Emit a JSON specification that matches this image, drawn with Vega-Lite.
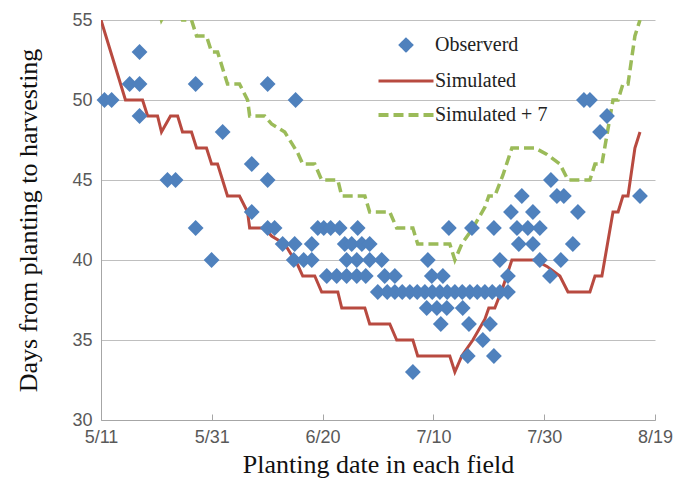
{
  "$schema": "https://vega.github.io/schema/vega-lite/v6.json",
  "width": 554,
  "height": 400,
  "autosize": {"type": "none"},
  "padding": {"left": 101, "top": 20, "right": 33, "bottom": 63},
  "background": "white",
  "config": {
    "view": {"stroke": null},
    "axis": {
      "labelFont": "Liberation Sans",
      "labelFontSize": 18,
      "labelColor": "#595959",
      "titleFont": "Liberation Serif",
      "titleFontSize": 26,
      "titleFontWeight": "normal",
      "titleColor": "#111111",
      "domainColor": "#a6a6a6",
      "tickColor": "#a6a6a6",
      "gridColor": "#bfbfbf"
    }
  },
  "datasets": {
    "obs": [
      {"date": "2000-05-11T15:00", "days": 50},
      {"date": "2000-05-12T22:00", "days": 50},
      {"date": "2000-05-16T04:00", "days": 51},
      {"date": "2000-05-17T23:00", "days": 51},
      {"date": "2000-05-17T23:00", "days": 53},
      {"date": "2000-05-17T23:00", "days": 49},
      {"date": "2000-05-23T00:00", "days": 45},
      {"date": "2000-05-24T11:00", "days": 45},
      {"date": "2000-05-28T02:00", "days": 51},
      {"date": "2000-05-28T02:00", "days": 42},
      {"date": "2000-05-30T23:00", "days": 40},
      {"date": "2000-06-01T23:00", "days": 48},
      {"date": "2000-06-07T05:00", "days": 46},
      {"date": "2000-06-07T05:00", "days": 43},
      {"date": "2000-06-10T02:00", "days": 45},
      {"date": "2000-06-10T02:00", "days": 51},
      {"date": "2000-06-10T02:00", "days": 42},
      {"date": "2000-06-11T08:00", "days": 42},
      {"date": "2000-06-12T19:00", "days": 41},
      {"date": "2000-06-15T03:00", "days": 50},
      {"date": "2000-06-14T23:00", "days": 41},
      {"date": "2000-06-18T01:00", "days": 41},
      {"date": "2000-06-14T19:00", "days": 40},
      {"date": "2000-06-16T14:00", "days": 40},
      {"date": "2000-06-18T01:00", "days": 40},
      {"date": "2000-06-19T03:00", "days": 42},
      {"date": "2000-06-20T05:00", "days": 42},
      {"date": "2000-06-21T11:00", "days": 42},
      {"date": "2000-06-23T02:00", "days": 42},
      {"date": "2000-06-26T08:00", "days": 42},
      {"date": "2000-06-24T00:00", "days": 41},
      {"date": "2000-06-25T06:00", "days": 41},
      {"date": "2000-06-27T02:00", "days": 41},
      {"date": "2000-06-28T12:00", "days": 41},
      {"date": "2000-06-24T08:00", "days": 40},
      {"date": "2000-06-26T04:00", "days": 40},
      {"date": "2000-06-28T12:00", "days": 40},
      {"date": "2000-06-30T16:00", "days": 40},
      {"date": "2000-06-20T18:00", "days": 39},
      {"date": "2000-06-22T13:00", "days": 39},
      {"date": "2000-06-24T08:00", "days": 39},
      {"date": "2000-06-26T04:00", "days": 39},
      {"date": "2000-06-27T19:00", "days": 39},
      {"date": "2000-07-01T05:00", "days": 39},
      {"date": "2000-07-03T01:00", "days": 39},
      {"date": "2000-06-29T23:00", "days": 38},
      {"date": "2000-07-01T16:00", "days": 38},
      {"date": "2000-07-03T01:00", "days": 38},
      {"date": "2000-07-04T09:00", "days": 38},
      {"date": "2000-07-05T18:00", "days": 38},
      {"date": "2000-07-07T02:00", "days": 38},
      {"date": "2000-07-08T11:00", "days": 38},
      {"date": "2000-07-09T19:00", "days": 38},
      {"date": "2000-07-11T04:00", "days": 38},
      {"date": "2000-07-12T12:00", "days": 38},
      {"date": "2000-07-13T21:00", "days": 38},
      {"date": "2000-07-15T05:00", "days": 38},
      {"date": "2000-07-16T14:00", "days": 38},
      {"date": "2000-07-17T22:00", "days": 38},
      {"date": "2000-07-19T07:00", "days": 38},
      {"date": "2000-07-20T15:00", "days": 38},
      {"date": "2000-07-22T00:00", "days": 38},
      {"date": "2000-07-23T11:00", "days": 38},
      {"date": "2000-07-09T00:00", "days": 40},
      {"date": "2000-07-09T17:00", "days": 39},
      {"date": "2000-07-11T17:00", "days": 39},
      {"date": "2000-07-08T19:00", "days": 37},
      {"date": "2000-07-10T15:00", "days": 37},
      {"date": "2000-07-12T10:00", "days": 37},
      {"date": "2000-07-15T07:00", "days": 37},
      {"date": "2000-07-11T08:00", "days": 36},
      {"date": "2000-07-16T10:00", "days": 36},
      {"date": "2000-07-20T05:00", "days": 36},
      {"date": "2000-07-18T22:00", "days": 35},
      {"date": "2000-07-16T05:00", "days": 34},
      {"date": "2000-07-20T22:00", "days": 34},
      {"date": "2000-07-06T07:00", "days": 33},
      {"date": "2000-07-12T19:00", "days": 42},
      {"date": "2000-07-16T23:00", "days": 42},
      {"date": "2000-07-20T22:00", "days": 42},
      {"date": "2000-07-22T00:00", "days": 40},
      {"date": "2000-07-23T11:00", "days": 39},
      {"date": "2000-07-24T00:00", "days": 43},
      {"date": "2000-07-25T23:00", "days": 44},
      {"date": "2000-07-25T02:00", "days": 42},
      {"date": "2000-07-27T01:00", "days": 42},
      {"date": "2000-07-29T05:00", "days": 42},
      {"date": "2000-07-25T10:00", "days": 41},
      {"date": "2000-07-27T23:00", "days": 41},
      {"date": "2000-07-27T23:00", "days": 43},
      {"date": "2000-07-29T05:00", "days": 40},
      {"date": "2000-08-02T00:00", "days": 40},
      {"date": "2000-07-31T01:00", "days": 39},
      {"date": "2000-07-31T05:00", "days": 45},
      {"date": "2000-08-01T07:00", "days": 44},
      {"date": "2000-08-02T13:00", "days": 44},
      {"date": "2000-08-05T02:00", "days": 43},
      {"date": "2000-08-04T04:00", "days": 41},
      {"date": "2000-08-06T04:00", "days": 50},
      {"date": "2000-08-07T06:00", "days": 50},
      {"date": "2000-08-10T08:00", "days": 49},
      {"date": "2000-08-09T02:00", "days": 48},
      {"date": "2000-08-16T07:00", "days": 44}
    ],
    "sim": [
      {"date": "2000-05-11T00:00", "sim": 55, "sim7": 62},
      {"date": "2000-05-15T10:00", "sim": 50, "sim7": 57},
      {"date": "2000-05-18T12:00", "sim": 50, "sim7": 57},
      {"date": "2000-05-19T10:00", "sim": 49, "sim7": 56},
      {"date": "2000-05-21T05:00", "sim": 49, "sim7": 56},
      {"date": "2000-05-21T22:00", "sim": 48, "sim7": 55},
      {"date": "2000-05-23T13:00", "sim": 49, "sim7": 56},
      {"date": "2000-05-24T20:00", "sim": 49, "sim7": 56},
      {"date": "2000-05-25T17:00", "sim": 48, "sim7": 55},
      {"date": "2000-05-27T08:00", "sim": 48, "sim7": 55},
      {"date": "2000-05-28T06:00", "sim": 47, "sim7": 54},
      {"date": "2000-05-30T01:00", "sim": 47, "sim7": 54},
      {"date": "2000-05-30T23:00", "sim": 46, "sim7": 53},
      {"date": "2000-06-01T01:00", "sim": 46, "sim7": 53},
      {"date": "2000-06-02T20:00", "sim": 44, "sim7": 51},
      {"date": "2000-06-05T00:00", "sim": 44, "sim7": 51},
      {"date": "2000-06-06T11:00", "sim": 43, "sim7": 50},
      {"date": "2000-06-06T20:00", "sim": 42, "sim7": 49},
      {"date": "2000-06-09T13:00", "sim": 42, "sim7": 49},
      {"date": "2000-06-10T19:00", "sim": 41.5, "sim7": 48.5},
      {"date": "2000-06-13T04:00", "sim": 41, "sim7": 48},
      {"date": "2000-06-14T10:00", "sim": 40.3, "sim7": 47.3},
      {"date": "2000-06-15T12:00", "sim": 39.7, "sim7": 46.7},
      {"date": "2000-06-16T10:00", "sim": 39, "sim7": 46},
      {"date": "2000-06-18T14:00", "sim": 39, "sim7": 46},
      {"date": "2000-06-19T20:00", "sim": 38, "sim7": 45},
      {"date": "2000-06-22T18:00", "sim": 38, "sim7": 45},
      {"date": "2000-06-23T11:00", "sim": 37, "sim7": 44},
      {"date": "2000-06-27T15:00", "sim": 37, "sim7": 44},
      {"date": "2000-06-28T12:00", "sim": 36, "sim7": 43},
      {"date": "2000-07-02T03:00", "sim": 36, "sim7": 43},
      {"date": "2000-07-03T09:00", "sim": 35, "sim7": 42},
      {"date": "2000-07-06T07:00", "sim": 35, "sim7": 42},
      {"date": "2000-07-07T04:00", "sim": 34, "sim7": 41},
      {"date": "2000-07-12T23:00", "sim": 34, "sim7": 41},
      {"date": "2000-07-13T21:00", "sim": 33, "sim7": 40},
      {"date": "2000-07-15T03:00", "sim": 34, "sim7": 41},
      {"date": "2000-07-17T03:00", "sim": 35, "sim7": 42},
      {"date": "2000-07-19T07:00", "sim": 36.3, "sim7": 43.3},
      {"date": "2000-07-20T00:00", "sim": 37, "sim7": 44},
      {"date": "2000-07-21T02:00", "sim": 37, "sim7": 44},
      {"date": "2000-07-22T13:00", "sim": 38.3, "sim7": 45.3},
      {"date": "2000-07-24T04:00", "sim": 40, "sim7": 47},
      {"date": "2000-07-28T08:00", "sim": 40, "sim7": 47},
      {"date": "2000-07-30T12:00", "sim": 39.6, "sim7": 46.6},
      {"date": "2000-08-01T20:00", "sim": 39, "sim7": 46},
      {"date": "2000-08-03T07:00", "sim": 38, "sim7": 45},
      {"date": "2000-08-07T06:00", "sim": 38, "sim7": 45},
      {"date": "2000-08-08T04:00", "sim": 39, "sim7": 46},
      {"date": "2000-08-09T10:00", "sim": 39, "sim7": 46},
      {"date": "2000-08-11T10:00", "sim": 43, "sim7": 50},
      {"date": "2000-08-12T08:00", "sim": 43, "sim7": 50},
      {"date": "2000-08-13T05:00", "sim": 44, "sim7": 51},
      {"date": "2000-08-14T03:00", "sim": 44, "sim7": 51},
      {"date": "2000-08-15T09:00", "sim": 47, "sim7": 54},
      {"date": "2000-08-16T07:00", "sim": 48, "sim7": 55}
    ]
  },
  "encoding": {
    "x": {
      "field": "date",
      "type": "temporal",
      "scale": {"domain": [{"year": 2000, "month": 5, "date": 11}, {"year": 2000, "month": 8, "date": 19}]},
      "axis": {
        "title": "Planting date in each field",
        "values": [
          {"year": 2000, "month": 5, "date": 11},
          {"year": 2000, "month": 5, "date": 31},
          {"year": 2000, "month": 6, "date": 20},
          {"year": 2000, "month": 7, "date": 10},
          {"year": 2000, "month": 7, "date": 30},
          {"year": 2000, "month": 8, "date": 19}
        ],
        "format": "%-m/%-d",
        "grid": false,
        "tickSize": -6,
        "labelPadding": 14,
        "labelFlush": false,
        "titlePadding": 5
      }
    }
  },
  "layer": [
    {
      "data": {"name": "sim"},
      "mark": {"type": "line", "clip": true, "strokeWidth": 3.5, "strokeDash": [10, 5]},
      "encoding": {
        "y": {
          "field": "sim7",
          "type": "quantitative",
          "scale": {"domain": [30, 55], "nice": false, "zero": false},
          "axis": {
            "title": "Days from planting to harvesting",
            "values": [30, 35, 40, 45, 50, 55],
            "grid": true,
            "ticks": false,
            "labelPadding": 9,
            "titlePadding": 30
          }
        },
        "color": {
          "datum": "Simulated + 7",
          "type": "nominal",
          "scale": {
            "domain": ["Observerd", "Simulated", "Simulated + 7"],
            "range": ["#4f81bd", "#b84a40", "#9bbb59"]
          },
          "legend": {
            "title": null,
            "orient": "none",
            "legendX": 295,
            "legendY": 15,
            "padding": 0,
            "symbolSize": 400,
            "labelOffset": 19,
            "rowPadding": 14,
            "labelFont": "Liberation Serif",
            "labelFontSize": 20,
            "labelColor": "#222222",
            "labelLimit": 300,
            "encode": {
              "symbols": {
                "update": {
                  "shape": {"signal": "datum.value === 'Observerd' ? 'diamond' : 'M-2.75,0H2.75'"},
                  "size": {"signal": "datum.value === 'Observerd' ? 130 : 400"},
                  "fill": {"signal": "datum.value === 'Observerd' ? '#4f81bd' : 'transparent'"},
                  "stroke": {"signal": "datum.value === 'Observerd' ? 'transparent' : (datum.value === 'Simulated' ? '#b84a40' : '#9bbb59')"},
                  "strokeWidth": {"signal": "datum.value === 'Simulated + 7' ? 4 : 3"},
                  "strokeDash": {"signal": "datum.value === 'Simulated + 7' ? [10, 5] : [1, 0]"},
                  "opacity": {"value": 1}
                }
              }
            }
          }
        }
      }
    },
    {
      "data": {"name": "sim"},
      "mark": {"type": "line", "clip": true, "strokeWidth": 3},
      "encoding": {
        "y": {"field": "sim", "type": "quantitative"},
        "color": {"datum": "Simulated", "type": "nominal"}
      }
    },
    {
      "data": {"name": "obs"},
      "mark": {"type": "point", "shape": "diamond", "filled": true, "size": 250, "opacity": 1},
      "encoding": {
        "y": {"field": "days", "type": "quantitative"},
        "color": {"datum": "Observerd", "type": "nominal"}
      }
    }
  ]
}
